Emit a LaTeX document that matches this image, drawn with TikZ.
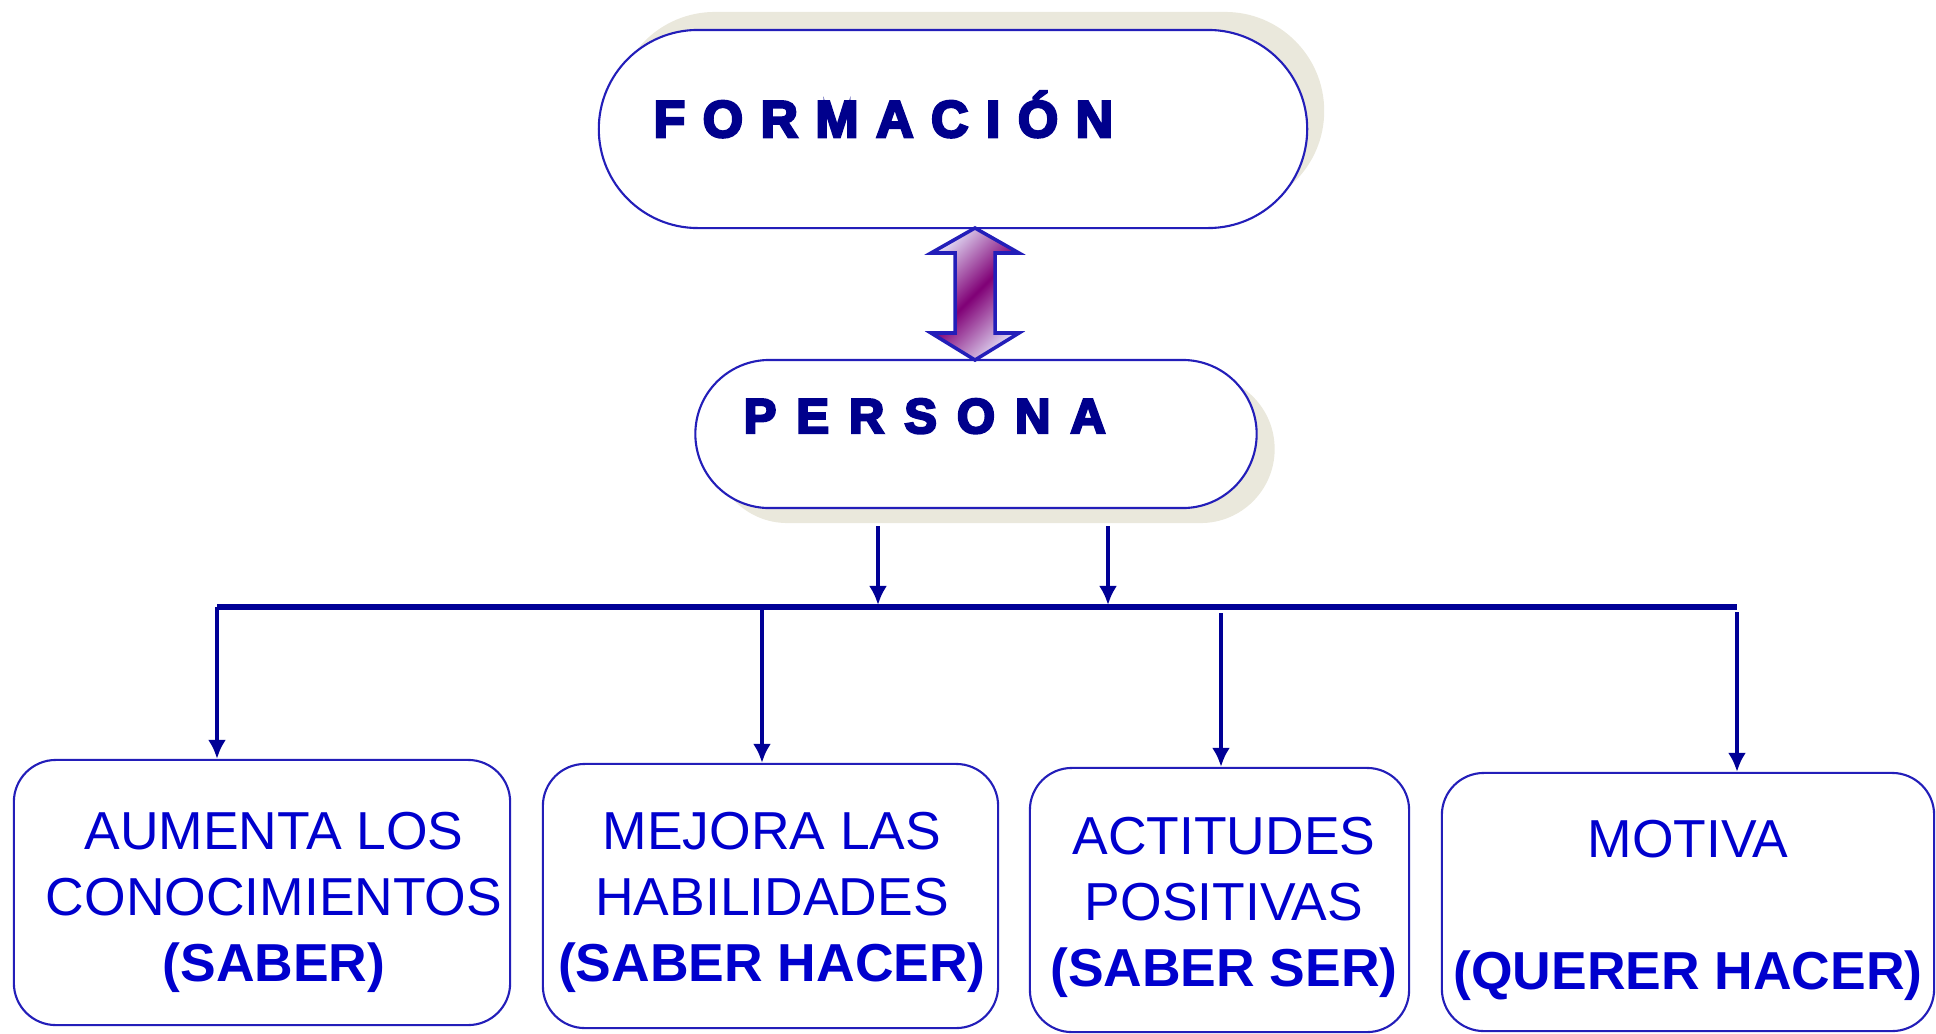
\documentclass[tikz,border=0pt]{standalone}
\usepackage{fontspec}
\setmainfont{Liberation Sans}
\newfontfamily\titulofont[LetterSpace=34, FakeBold=5]{Liberation Sans}
\usetikzlibrary{arrows.meta,shapes.misc,shadows}

\definecolor{azultit}{RGB}{0,0,140}
\definecolor{azullinea}{RGB}{0,0,150}
\definecolor{azulborde}{RGB}{35,30,185}
\definecolor{azultexto}{RGB}{0,0,205}
\definecolor{sombra}{RGB}{234,232,220}
\definecolor{lila}{RGB}{222,212,240}
\definecolor{morado}{RGB}{128,0,118}

\tikzset{
  pildora/.style={rounded rectangle, draw=azulborde, line width=0.6pt, fill=white, inner sep=0pt},
  caja/.style={rectangle, rounded corners=0.42cm, draw=azulborde, line width=0.6pt, inner sep=0pt},
  titulo/.style={anchor=base west, inner sep=0pt, text=azultit,
    font=\titulofont\bfseries\fontsize{14.7}{17}\selectfont},
  texto/.style={align=center, inner sep=0pt, text=azultexto,
    font=\fontsize{15.2}{18.8}\selectfont},
  conector/.style={draw=azullinea, line width=1.4pt, -{Latex[length=0.19cm,width=0.18cm]}},
  barra/.style={draw=azullinea, line width=1.8pt},
}

\begin{document}
\begin{tikzpicture}[x=0.01cm, y=-0.01cm]
  \def\barra{607};
  \useasboundingbox (0,0) rectangle (1936,1033);
  % formacion y persona
  \node[pildora, minimum width=7.08cm, minimum height=1.98cm,
    drop shadow={shadow xshift=0.17cm, shadow yshift=0.18cm, fill=sombra, opacity=1}]
    (formacion) at (953,129) {};
  \node[titulo] (formaciontxt) at (653,137) {FORMACIÓN};
  \node[pildora, minimum width=5.61cm, minimum height=1.48cm,
    drop shadow={shadow xshift=0.18cm, shadow yshift=-0.15cm, fill=sombra, opacity=1}]
    (persona) at (976,434) {};
  \node[titulo, font=\titulofont\bfseries\addfontfeature{LetterSpace=41}\fontsize{13.9}{16}\selectfont]
    (personatxt) at (743,433) {PERSONA};
  %
  \shade[draw=azulborde, line width=1pt, top color=lila, bottom color=lila,
    middle color=morado, shading angle=45]
    (975,228) -- (1019,253) -- (995,253) -- (995,333) -- (1019,333) -- (975,360)
    -- (931,333) -- (955,333) -- (955,253) -- (931,253) -- cycle;
  %
  \coordinate (p1) at (878,\barra);
  \coordinate (p2) at (1108,\barra);
  \draw[conector, line width=1.2pt, shorten <=0.17cm, shorten >=0.02cm] (persona.south -| p1) -- (p1);
  \draw[conector, line width=1.2pt, shorten <=0.17cm, shorten >=0.02cm] (persona.south -| p2) -- (p2);
  %
  \coordinate (b1) at (217,\barra);
  \coordinate (b2) at (762,\barra);
  \coordinate (b3) at (1221,\barra);
  \coordinate (b4) at (1737,\barra);
  \draw[barra] (b1) -- (b4);
  % cajas de abajo
  \node[caja, minimum width=4.96cm, minimum height=2.65cm] (caja1) at (262,892.5) {};
  \node[caja, minimum width=4.55cm, minimum height=2.64cm] (caja2) at (770.5,896) {};
  \node[caja, minimum width=3.79cm, minimum height=2.64cm] (caja3) at (1219.5,900) {};
  \node[caja, minimum width=4.92cm, minimum height=2.58cm] (caja4) at (1688,902) {};
  %
  \node[texto] (texto1) at ([xshift=0.12cm, yshift=-0.1cm]caja1.center)
    {AUMENTA LOS\\CONOCIMIENTOS\\\textbf{(SABER)}};
  \node[texto] (texto2) at ([xshift=0.015cm, yshift=-0.06cm]caja2.center)
    {MEJORA LAS\\HABILIDADES\\\textbf{(SABER HACER)}};
  \node[texto] (texto3) at ([xshift=0.045cm, yshift=-0.075cm]caja3.center)
    {ACTITUDES\\POSITIVAS\\\textbf{(SABER SER)}};
  \node[texto] (texto4) at ([yshift=-0.085cm]caja4.center)
    {MOTIVA\\[18.8pt]\textbf{(QUERER HACER)}};
  %
  \draw[conector] (b1) -- (b1 |- caja1.north);
  \draw[conector] (b2) -- (b2 |- caja2.north);
  \draw[conector, shorten <=0.06cm] (b3) -- (b3 |- caja3.north);
  \draw[conector, shorten <=0.05cm] (b4) -- (b4 |- caja4.north);
\end{tikzpicture}
\end{document}
